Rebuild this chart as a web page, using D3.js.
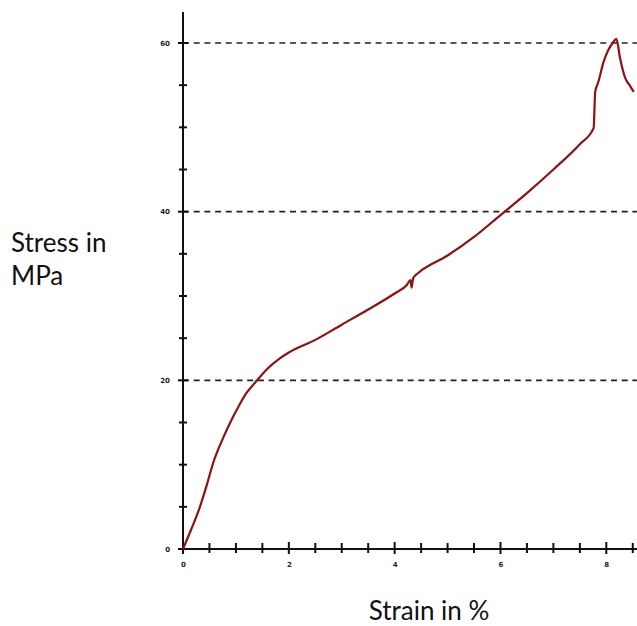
<!DOCTYPE html>
<html><head><meta charset="utf-8">
<script src="https://cdn.jsdelivr.net/npm/d3@7"></script>
<style>html,body{margin:0;padding:0;background:#fff;overflow:hidden}</style>
</head><body>
<script>
const strain = [0, 0.16, 0.32, 0.45, 0.57, 0.76, 0.9, 1.05, 1.2, 1.40, 1.6, 1.83, 2.0, 2.5, 3.0, 3.5, 4.0, 4.23, 4.30, 4.32, 4.35, 4.42, 4.5, 5.0, 5.5, 6.0, 6.5, 7.0, 7.5, 7.76, 7.79, 7.85, 7.95, 8.04, 8.12, 8.19, 8.26, 8.36, 8.44, 8.52];
const stress = [0, 2.4, 5.0, 7.6, 10.2, 13.2, 15.1, 16.9, 18.5, 20.0, 21.4, 22.6, 23.3, 24.8, 26.6, 28.4, 30.3, 31.3, 31.9, 31.0, 32.1, 32.6, 33.0, 34.8, 37.0, 39.6, 42.2, 45.0, 48.0, 49.9, 54.2, 55.4, 57.8, 59.2, 60.0, 60.5, 58.2, 55.8, 55.0, 54.2];
const xMajorTicks = [0, 2, 4, 6, 8];
const xMinorTicks = [0.5, 1, 1.5, 2.5, 3, 3.5, 4.5, 5, 5.5, 6.5, 7, 7.5, 8.5];
const yMajorTicks = [0, 20, 40, 60];
const yMinorTicks = [5, 10, 15, 25, 30, 35, 45, 50, 55];
const gridValues = [20, 40, 60];
const yTitle = ["Stress in", "MPa"];
const xTitle = "Strain in %";

const W = 637, H = 626;
const svg = d3.select("body").append("svg").attr("width", W).attr("height", H);
const x = d3.scaleLinear().domain([0, 8.58]).range([183, 637]);
const y = d3.scaleLinear().domain([0, 60]).range([549, 43]);

// grid
svg.append("g").selectAll("line").data(gridValues).join("line")
  .attr("x1", x(0)).attr("x2", W).attr("y1", d => y(d)).attr("y2", d => y(d))
  .attr("stroke", "#222").attr("stroke-width", 1.6).attr("stroke-dasharray", "6,4.7");

// axes
const gx = svg.append("g").attr("transform", `translate(0,${y(0)})`);
gx.call(d3.axisBottom(x).tickValues(xMajorTicks).tickSize(0).tickPadding(13).tickFormat(d3.format("d")));
gx.select(".domain").attr("stroke", "#111").attr("stroke-width", 2).attr("d", `M${x(0)},0H${W}`);
gx.selectAll(".tick text").attr("font-family", "DejaVu Sans").attr("font-size", 7).attr("font-weight", "bold").attr("fill", "#222");
gx.selectAll(".tickmaj").data(xMajorTicks).join("line").attr("class", "tickmaj")
  .attr("x1", d => x(d)).attr("x2", d => x(d)).attr("y1", -7).attr("y2", 5).attr("stroke", "#111").attr("stroke-width", 2);
gx.selectAll(".tickmin").data(xMinorTicks).join("line").attr("class", "tickmin")
  .attr("x1", d => x(d)).attr("x2", d => x(d)).attr("y1", -6).attr("y2", 4).attr("stroke", "#111").attr("stroke-width", 2);

const gy = svg.append("g").attr("transform", `translate(${x(0)},0)`);
gy.call(d3.axisLeft(y).tickValues(yMajorTicks).tickSize(0).tickPadding(13).tickFormat(d3.format("d")));
gy.select(".domain").attr("stroke", "#111").attr("stroke-width", 2).attr("d", `M0,12V${y(0)}`);
gy.selectAll(".tick text").attr("font-family", "DejaVu Sans").attr("font-size", 7).attr("font-weight", "bold").attr("fill", "#222");
gy.selectAll(".tickmaj").data(yMajorTicks).join("line").attr("class", "tickmaj")
  .attr("y1", d => y(d)).attr("y2", d => y(d)).attr("x1", -5).attr("x2", 5).attr("stroke", "#111").attr("stroke-width", 2);
gy.selectAll(".tickmin").data(yMinorTicks).join("line").attr("class", "tickmin")
  .attr("y1", d => y(d)).attr("y2", d => y(d)).attr("x1", -4).attr("x2", 4).attr("stroke", "#111").attr("stroke-width", 2);

// curve
const pts = strain.map((s, i) => [s, stress[i]]);
svg.append("path").datum(pts)
  .attr("d", d3.line().curve(d3.curveMonotoneX).x(d => x(d[0])).y(d => y(d[1])))
  .attr("fill", "none").attr("stroke", "#8e1212").attr("stroke-width", 2.2).attr("stroke-linejoin", "round");

// titles
svg.append("text").attr("font-family", "Lato").attr("font-size", 26).attr("fill", "#111")
  .selectAll("tspan").data(yTitle).join("tspan")
  .attr("x", 11).attr("y", (d, i) => 252 + i * 33).text(d => d);
svg.append("text").attr("x", 429).attr("y", 620).attr("text-anchor", "middle")
  .attr("font-family", "Lato").attr("font-size", 26).attr("fill", "#111").text(xTitle);
</script>
</body></html>
